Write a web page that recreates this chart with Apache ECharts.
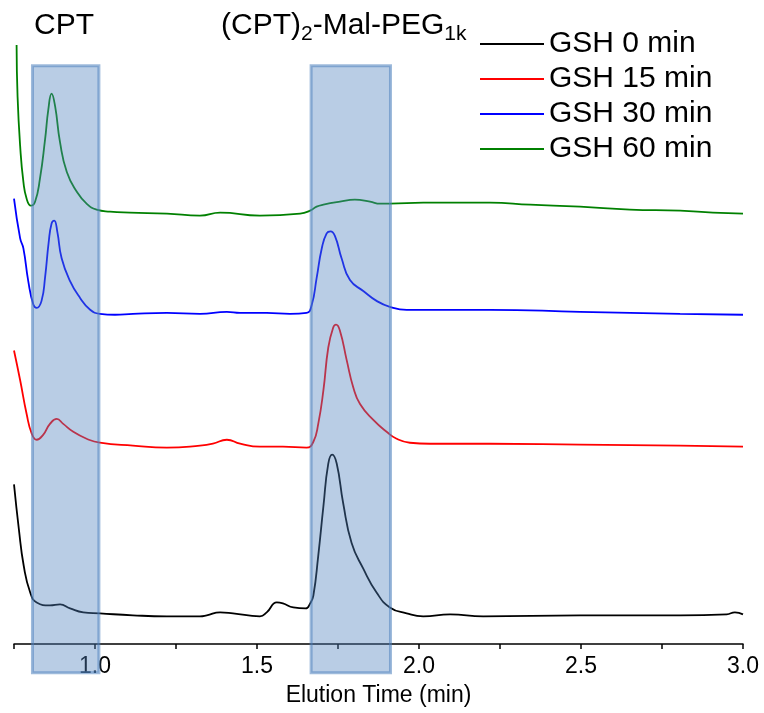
<!DOCTYPE html>
<html>
<head>
<meta charset="utf-8">
<script src="https://cdn.jsdelivr.net/npm/echarts@6/dist/echarts.min.js"></script>
<style>html,body{margin:0;padding:0;background:#fff;}#chart{width:764px;height:713px;}</style>
</head>
<body>
<div id="chart"></div>
<script>
// ---- data (elution time in min, detector signal in arbitrary offset units) ----
const seriesNames = ['GSH 0 min', 'GSH 15 min', 'GSH 30 min', 'GSH 60 min'];
const xTickLabels = ['1.0', '1.5', '2.0', '2.5', '3.0'];
const highlightWindows = [[0.807, 1.012], [1.667, 1.912]];
const peakLabels = ['CPT', '(CPT)', '2', '-Mal-PEG', '1k'];

const gsh0 = [
  [0.750,161],[0.765,116],[0.780,79],[0.800,52],[0.820,42],[0.861,39],[0.892,40],[0.923,36],
  [0.964,32],[1.015,31],[1.117,29],[1.222,28],[1.324,28],[1.345,29],[1.386,32],[1.426,31],
  [1.509,28],[1.530,32],[1.561,42],[1.580,41],[1.612,37],[1.650,36],[1.664,41],[1.674,49],
  [1.689,89],[1.705,139],[1.720,182],[1.732,191],[1.746,182],[1.766,142],[1.792,102],[1.828,76],
  [1.869,52],[1.910,37],[1.962,31],[2.013,28],[2.096,30],[2.198,28],[2.497,29],[2.806,29],
  [2.950,30],[2.975,32],[3.000,30]
];
const gsh15 = [
  [0.750,296],[0.769,266],[0.789,232],[0.805,212],[0.820,206],[0.840,211],[0.861,222],[0.882,227],
  [0.902,222],[0.933,214],[0.974,207],[1.015,203],[1.117,200],[1.222,198],[1.324,200],[1.364,202],
  [1.407,206],[1.448,202],[1.509,199],[1.580,199],[1.653,198],[1.674,204],[1.689,222],[1.705,256],
  [1.720,299],[1.735,319],[1.744,322],[1.756,316],[1.777,286],[1.797,259],[1.818,242],[1.859,226],
  [1.900,214],[1.931,207],[1.972,203],[2.034,202],[2.219,202],[2.497,201],[2.806,200],[3.000,199]
];
const gsh30 = [
  [0.750,449],[0.769,409],[0.779,399],[0.794,366],[0.810,342],[0.820,339],[0.835,346],[0.846,370],
  [0.857,405],[0.866,424],[0.874,427],[0.884,415],[0.897,389],[0.923,366],[0.954,349],[0.985,337],
  [1.015,333],[1.062,332],[1.117,333],[1.222,334],[1.324,333],[1.407,335],[1.448,334],[1.530,334],
  [1.602,333],[1.653,334],[1.669,342],[1.684,369],[1.700,399],[1.715,414],[1.727,416],[1.741,411],
  [1.761,389],[1.787,367],[1.828,356],[1.869,346],[1.910,340],[1.962,337],[2.065,337],[2.219,337],
  [2.497,335],[2.806,333],[3.000,332]
];
const gsh60 = [
  [0.758,604],[0.761,552],[0.769,502],[0.779,466],[0.789,449],[0.802,442],[0.815,446],[0.830,469],
  [0.846,509],[0.856,539],[0.866,555],[0.877,542],[0.892,506],[0.913,476],[0.944,456],[0.974,444],
  [1.005,438],[1.046,436],[1.108,435],[1.222,434],[1.324,432],[1.386,435],[1.509,432],[1.633,434],
  [1.664,437],[1.684,441],[1.705,443],[1.756,446],[1.802,448],[1.849,446],[1.880,444],[1.910,444],
  [2.013,445],[2.219,445],[2.343,443],[2.497,441],[2.651,438],[2.806,437],[2.907,435],[3.000,434]
];

const traceData = [gsh0, gsh15, gsh30, gsh60];
const traceColors = ['#000000', '#ff0000', '#0000ff', '#008000'];
const FONT = 'Liberation Sans, Arial, Helvetica, sans-serif';

const chart = echarts.init(document.getElementById('chart'), null, {renderer: 'canvas'});

const lineSeries = seriesNames.map((name, i) => ({
  name: name,
  type: 'line',
  data: traceData[i],
  showSymbol: false,
  symbol: 'none',
  smooth: 0.5,
  lineStyle: {color: traceColors[i], width: 1.8},
  itemStyle: {color: traceColors[i]},
  z: 2,
  silent: true
}));

const BOX_TOP = 583, BOX_BOTTOM = -29;
const boxSeries = {
  type: 'custom',
  data: highlightWindows,
  encode: {x: [0, 1]},
  clip: false,
  silent: true,
  z: 10,
  renderItem: function (params, api) {
    const p0 = api.coord([api.value(0), BOX_TOP]);
    const p1 = api.coord([api.value(1), BOX_BOTTOM]);
    return {
      type: 'rect',
      shape: {x: p0[0], y: p0[1], width: p1[0] - p0[0], height: p1[1] - p0[1]},
      style: {fill: 'rgba(79,129,189,0.4)', stroke: 'rgba(79,129,189,0.55)', lineWidth: 3}
    };
  }
};

// title labels laid out by measured text widths
const mctx = document.createElement('canvas').getContext('2d');
function tw(t, size) { mctx.font = size + 'px ' + FONT; return mctx.measureText(t).width; }
const MAIN = 30, SUB = 21, MAIN_Y = 26, SUB_Y = 34;
const titleParts = [
  {t: peakLabels[1], s: MAIN, y: MAIN_Y},
  {t: peakLabels[2], s: SUB, y: SUB_Y},
  {t: peakLabels[3], s: MAIN, y: MAIN_Y},
  {t: peakLabels[4], s: SUB, y: SUB_Y}
];
const graphics = [
  {type: 'text', x: 34, y: MAIN_Y, style: {text: peakLabels[0], fontSize: MAIN, fontFamily: FONT, fill: '#000', verticalAlign: 'middle'}}
];
let cx = 221;
titleParts.forEach(p => {
  graphics.push({type: 'text', x: cx, y: p.y, style: {text: p.t, fontSize: p.s, fontFamily: FONT, fill: '#000', verticalAlign: 'middle'}});
  cx += tw(p.t, p.s);
});

const option = {
  backgroundColor: '#ffffff',
  animation: false,
  grid: {left: 14, right: 21, top: 40, bottom: 64},
  legend: {
    data: seriesNames,
    orient: 'vertical',
    left: 480,
    top: 29,
    padding: 0,
    itemWidth: 64,
    itemHeight: 2,
    itemGap: 5,
    icon: 'rect',
    selectedMode: false,
    textStyle: {fontSize: 30, lineHeight: 30, color: '#000', fontFamily: FONT}
  },
  xAxis: {
    type: 'value',
    min: 0.75,
    max: 3.0,
    interval: 0.25,
    name: 'Elution Time (min)',
    nameLocation: 'middle',
    nameGap: 33,
    nameTextStyle: {fontSize: 23, lineHeight: 24, color: '#000', fontFamily: FONT},
    axisLine: {onZero: false, lineStyle: {color: '#000', width: 1.5}},
    axisTick: {show: true, inside: false, length: 5, lineStyle: {color: '#000', width: 1.5}},
    axisLabel: {
      margin: 11,
      fontSize: 23,
      lineHeight: 24,
      color: '#000',
      fontFamily: FONT,
      formatter: function (v) {
        const idx = Math.round((v - 1.0) / 0.5);
        if (Math.abs(v - (1.0 + idx * 0.5)) < 1e-6 && idx >= 0 && idx < xTickLabels.length) return xTickLabels[idx];
        return '';
      }
    },
    splitLine: {show: false}
  },
  yAxis: {
    type: 'value',
    min: 0,
    max: 609,
    show: false,
    splitLine: {show: false}
  },
  graphic: graphics,
  series: lineSeries.concat([boxSeries])
};
chart.setOption(option);
</script>
</body>
</html>
